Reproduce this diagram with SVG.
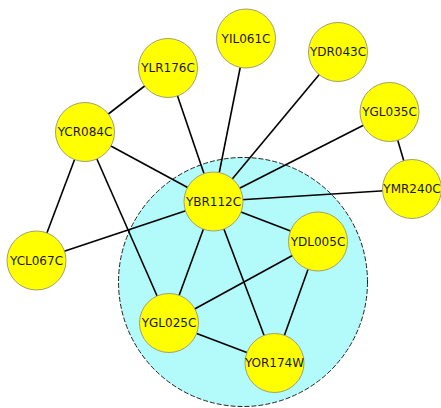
<svg xmlns="http://www.w3.org/2000/svg" width="441" height="408" viewBox="0 0 441 408">
<style>
.n circle{fill:#ffff00;stroke:#a0a070;stroke-width:1}
.n text{font-family:"DejaVu Sans",Verdana,sans-serif;font-size:12px;fill:#1a1a1a;text-anchor:middle;dominant-baseline:central}
.e line{stroke:#000;stroke-width:1.6}
</style>
<rect width="441" height="408" fill="#fff"/>
<circle id="cluster" cx="243" cy="282" r="124.5" fill="#b3fbfb" stroke="#222" stroke-width="1" stroke-dasharray="5,2"/>
<g class="e">
<line x1="168" y1="68" x2="85" y2="132"/>
<line x1="168" y1="68" x2="213.5" y2="201.5"/>
<line x1="246" y1="38.5" x2="213.5" y2="201.5"/>
<line x1="338" y1="52" x2="213.5" y2="201.5"/>
<line x1="389.5" y1="112" x2="213.5" y2="201.5"/>
<line x1="389.5" y1="112" x2="412" y2="189"/>
<line x1="412" y1="189" x2="213.5" y2="201.5"/>
<line x1="85" y1="132" x2="213.5" y2="201.5"/>
<line x1="85" y1="132" x2="36.5" y2="260.5"/>
<line x1="85" y1="132" x2="169" y2="323"/>
<line x1="36.5" y1="260.5" x2="213.5" y2="201.5"/>
<line x1="213.5" y1="201.5" x2="318" y2="241.5"/>
<line x1="213.5" y1="201.5" x2="169" y2="323"/>
<line x1="213.5" y1="201.5" x2="274.5" y2="363"/>
<line x1="318" y1="241.5" x2="169" y2="323"/>
<line x1="318" y1="241.5" x2="274.5" y2="363"/>
<line x1="169" y1="323" x2="274.5" y2="363"/>
</g>
<g id="YIL061C" class="n"><circle cx="246" cy="38.5" r="29.5"/><text x="246" y="38.5">YIL061C</text></g>
<g id="YDR043C" class="n"><circle cx="338" cy="52" r="29.5"/><text x="338" y="52">YDR043C</text></g>
<g id="YLR176C" class="n"><circle cx="168" cy="68" r="29.5"/><text x="168" y="68">YLR176C</text></g>
<g id="YCR084C" class="n"><circle cx="85" cy="132" r="29.5"/><text x="85" y="132">YCR084C</text></g>
<g id="YGL035C" class="n"><circle cx="389.5" cy="112" r="29.5"/><text x="389.5" y="112">YGL035C</text></g>
<g id="YMR240C" class="n"><circle cx="412" cy="189" r="29.5"/><text x="412" y="189">YMR240C</text></g>
<g id="YBR112C" class="n"><circle cx="213.5" cy="201.5" r="29.5"/><text x="213.5" y="201.5">YBR112C</text></g>
<g id="YCL067C" class="n"><circle cx="36.5" cy="260.5" r="29.5"/><text x="36.5" y="260.5">YCL067C</text></g>
<g id="YDL005C" class="n"><circle cx="318" cy="241.5" r="29.5"/><text x="318" y="241.5">YDL005C</text></g>
<g id="YGL025C" class="n"><circle cx="169" cy="323" r="29.5"/><text x="169" y="323">YGL025C</text></g>
<g id="YOR174W" class="n"><circle cx="274.5" cy="363" r="29.5"/><text x="274.5" y="363">YOR174W</text></g>
</svg>
